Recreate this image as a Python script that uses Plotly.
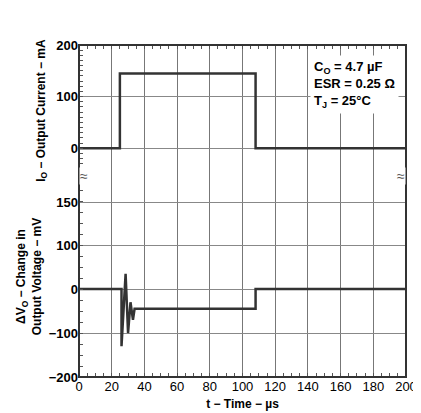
import plotly.graph_objects as go

t_current = [0, 25, 25, 108, 108, 200]
current_ma = [0, 0, 145, 145, 0, 0]
t_voltage = [0, 26, 26, 28.5, 30, 31.5, 33, 34, 35, 108, 108, 200]
dv_mv = [0, 0, -130, 35, -100, -30, -70, -45, -45, -45, 0, 0]
x_ticks = [0, 20, 40, 60, 80, 100, 120, 140, 160, 180, 200]

F = dict(family="Liberation Sans, Arial", size=12, color="black")
TF = dict(family="Liberation Sans, Arial", size=13, color="black")
line = dict(color="#333", width=2.5)
fig = go.Figure()
fig.add_trace(go.Scatter(x=t_current, y=current_ma, mode="lines", line=line, xaxis="x", yaxis="y"))
fig.add_trace(go.Scatter(x=t_voltage, y=dv_mv, mode="lines", line=line, xaxis="x2", yaxis="y2"))

ax = dict(range=[0, 200], tickvals=x_ticks, showgrid=True, gridcolor="#777", gridwidth=1,
          ticks="inside", ticklen=0, minor=dict(dtick=5, ticks="inside", ticklen=4, tickcolor="#555"),
          zeroline=False, showline=False)
fig.update_layout(
    width=421, height=413, margin=dict(l=71, r=18, t=37, b=44),
    paper_bgcolor="white", plot_bgcolor="white", showlegend=False, font=F,
    xaxis=dict(**ax, anchor="y", side="top", showticklabels=False, matches="x2"),
    xaxis2=dict(**ax, anchor="y2", showticklabels=True,
                title=dict(text="<b>t − Time − µs</b>", font=F, standoff=6),
                tickfont=TF),
    yaxis=dict(domain=[0.605, 1], range=[-54, 200], tickvals=[0, 100, 200], ticktext=["<b>0</b>", "<b>100</b>", "<b>200</b>"],
               tickfont=TF, showgrid=True, gridcolor="#888", zeroline=False, ticks="",
               minor=dict(dtick=10, ticks="inside", ticklen=4, tickcolor="#555", showgrid=False),
               title=dict(text="<b>I<sub>O</sub> − Output Current − mA</b>", font=F, standoff=8)),
    yaxis2=dict(domain=[0, 0.605], range=[-200, 257], tickvals=[-200, -100, 0, 100, 198],
                ticktext=["<b>−200</b>", "<b>−100</b>", "<b>0</b>", "<b>100</b>", "<b>150</b>"],
                tickfont=TF, showgrid=True, gridcolor="#888", zeroline=False, ticks="",
                minor=dict(dtick=25, ticks="inside", ticklen=4, tickcolor="#555", showgrid=False),
                title=dict(text="<b>ΔV<sub>O</sub> − Change in<br>Output Voltage − mV</b>", font=F, standoff=4)),
)
fig.update_xaxes(tickprefix="<b>", ticksuffix="</b>")
fig.add_shape(type="rect", xref="paper", yref="paper", x0=0, x1=1, y0=0, y1=1, line=dict(color="#333", width=2))
for xp in [0, 1]:
    fig.add_annotation(x=xp, y=0.605, xref="paper", yref="paper", text="≈", showarrow=False,
                       font=dict(size=14, color="#555"), bgcolor="white", borderpad=0)
fig.add_annotation(x=0.98, y=0.97, xref="paper", yref="paper", xanchor="right", yanchor="top", align="left",
                   text="<b>C<sub>O</sub> = 4.7 µF<br>ESR = 0.25 Ω<br>T<sub>J</sub> = 25°C</b>",
                   showarrow=False, bgcolor="white", font=TF, borderpad=3)
fig.write_html("out.html")
